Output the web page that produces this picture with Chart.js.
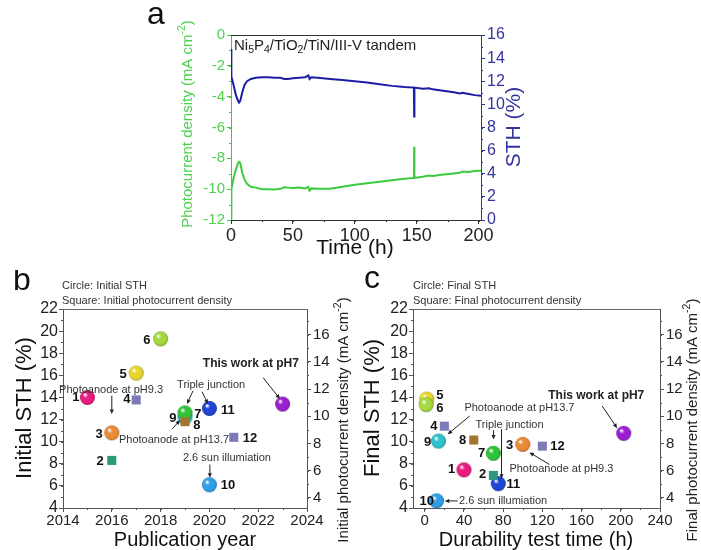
<!DOCTYPE html>
<html>
<head>
<meta charset="utf-8">
<script src="https://cdn.jsdelivr.net/npm/chart.js@4.4.0/dist/chart.umd.min.js"></script>
<style>
  body { margin: 0; background: #fff; }
  #wrap { position: relative; width: 701px; height: 550px; overflow: hidden; }
  canvas { position: absolute; }
</style>
</head>
<body>
<div id="wrap">
  <canvas id="chA" width="420" height="270" style="left:140px;top:0px"></canvas>
  <canvas id="chB" width="358" height="280" style="left:0px;top:270px"></canvas>
  <canvas id="chC" width="343" height="280" style="left:358px;top:270px"></canvas>
</div>
<script>
// ---- Panel a: stability run ----
var A_TIME = [0, 0.3, 2, 4, 5.5, 6.5, 7.5, 9, 11, 13, 16, 20, 25, 30, 35, 40, 43, 46, 50, 55,
  60, 62.5, 63.5, 65, 70, 80, 90, 100, 110, 120, 130, 140, 147.8, 148, 148.2, 155, 160, 163, 170, 180,
  185, 187, 192, 197, 202];
var A_STH = [14.8, 12.4, 11.7, 10.8, 10.35, 10.15, 10.3, 11.0, 11.7, 12.0, 12.2, 12.3, 12.35, 12.35, 12.3, 12.3, 12.2, 12.2, 12.25, 12.3,
  12.35, 12.5, 12.2, 12.35, 12.3, 12.2, 12.1, 12.0, 11.9, 11.75, 11.6, 11.5, 11.45, 8.95, 11.45, 11.35, 11.4, 11.3, 11.2, 11.05,
  10.95, 11.0, 10.9, 10.8, 10.75];
var A_PHOTOCURRENT = [-11.9, -10.0, -9.3, -8.7, -8.35, -8.22, -8.3, -8.9, -9.4, -9.65, -9.85, -9.9, -10.0, -10.0, -10.02, -9.98, -9.88, -9.9, -9.92, -9.9,
  -9.95, -9.85, -10.1, -9.95, -9.98, -9.97, -9.85, -9.72, -9.62, -9.52, -9.42, -9.33, -9.27, -7.25, -9.27, -9.2, -9.12, -9.15, -9.07, -8.98,
  -8.93, -8.85, -8.88, -8.82, -8.8];
var A_X_TICKS = [0, 50, 100, 150, 200];
var A_J_TICKS = [-12, -10, -8, -6, -4, -2, 0];
var A_STH_TICKS = [0, 2, 4, 6, 8, 10, 12, 14, 16];

// ---- Panel b: initial values vs publication year ----
var B_CIRCLE_IDS = ['1', '3', '5', '6', '9', '7', '10', '11', 'This work'];
var B_CIRCLE_YEAR = [2015, 2016, 2017, 2018, 2019, 2019, 2020, 2020, 2023];
var B_CIRCLE_STH = [14.0, 10.8, 16.2, 19.3, 12.2, 12.6, 6.1, 13.0, 13.4];
var B_SQUARE_IDS = ['2', '4', '8', '12'];
var B_SQUARE_YEAR = [2016, 2017, 2019, 2021];
var B_SQUARE_J = [6.75, 11.2, 9.6, 8.45];
var B_X_TICKS = [2014, 2016, 2018, 2020, 2022, 2024];

// ---- Panel c: final values vs durability time ----
var C_CIRCLE_IDS = ['5', '6', '9', '1', '7', '3', '11', '10', 'This work'];
var C_CIRCLE_TIME = [2, 1.5, 14, 40, 70, 100, 75, 12, 203];
var C_CIRCLE_STH = [13.85, 13.35, 10.05, 7.45, 8.95, 9.75, 6.2, 4.65, 10.75];
var C_SQUARE_IDS = ['4', '8', '2', '12'];
var C_SQUARE_TIME = [20, 50, 70, 120];
var C_SQUARE_J = [9.27, 8.25, 5.65, 7.8];
var C_X_TICKS = [0, 40, 80, 120, 160, 200, 240];

var STH_TICKS = [4, 6, 8, 10, 12, 14, 16, 18, 20, 22];
var J_TICKS = [4, 6, 8, 10, 12, 14, 16];

var FONT = '"Liberation Sans", Arial, sans-serif';
var GREEN = '#3ccb3c';
var GREEN_TXT = '#4fd04f';
var NAVY = '#1c1ca6';
var NAVY_TXT = '#3434a0';
var DARK = '#333';

var COLORS = {
  '1': '#ec1b80', '2': '#2a9a7a', '3': '#ea8a36', '4': '#7d7ab8', '5': '#e6d62a',
  '6': '#a5d83c', '7': '#2fc43a', '8': '#a57530', '9': '#2ec3cc', '10': '#2d9fe6',
  '11': '#1f45d6', '12': '#7d7ab8', 'This work': '#9b1fd0'
};

function shade(hex, f) {
  var n = parseInt(hex.slice(1), 16);
  var r = (n >> 16) & 255, g = (n >> 8) & 255, b = n & 255;
  r = Math.round(r * (1 + f)); g = Math.round(g * (1 + f)); b = Math.round(b * (1 + f));
  return 'rgb(' + r + ',' + g + ',' + b + ')';
}

// glossy sphere marker
function ball(color) {
  var r = 7.5, s = 17;
  var c = document.createElement('canvas');
  c.width = s; c.height = s;
  var g = c.getContext('2d');
  var grad = g.createRadialGradient(s / 2 - 2.6, s / 2 - 3, 0.5, s / 2, s / 2, r);
  grad.addColorStop(0, '#ffffff');
  grad.addColorStop(0.3, color);
  grad.addColorStop(0.8, color);
  grad.addColorStop(1, shade(color, -0.3));
  g.fillStyle = grad;
  g.beginPath(); g.arc(s / 2, s / 2, r, 0, Math.PI * 2); g.fill();
  return c;
}

function pairs(xs, ys) {
  var out = [];
  for (var i = 0; i < xs.length; i++) out.push({ x: xs[i], y: ys[i] });
  return out;
}
function fixedTicks(list) {
  return function (scale) { scale.ticks = list.map(function (v) { return { value: v }; }); };
}
function fixW(w) { return function (s) { s.width = w; }; }
function fixH(h) { return function (s) { s.height = h; }; }
function asText(v) { return String(v); }

function drawRich(ctx, parts, x, y, size, weight, color, align, rot, baseline) {
  if (typeof parts === 'string') parts = [[parts]];
  ctx.save();
  ctx.translate(x, y);
  if (rot) ctx.rotate(rot);
  ctx.fillStyle = color;
  ctx.textBaseline = baseline || 'middle';
  ctx.textAlign = 'left';
  var total = 0, widths = [];
  parts.forEach(function (p) {
    var s = p[1] ? size * 0.7 : size;
    ctx.font = weight + ' ' + s + 'px ' + FONT;
    var w = ctx.measureText(p[0]).width;
    widths.push(w); total += w;
  });
  var cx = align === 'left' ? 0 : (align === 'right' ? -total : -total / 2);
  parts.forEach(function (p, i) {
    var s = p[1] ? size * 0.7 : size;
    var dy = p[1] === 'sub' ? size * 0.3 : (p[1] === 'sup' ? -size * 0.38 : 0);
    ctx.font = weight + ' ' + s + 'px ' + FONT;
    ctx.fillText(p[0], cx, dy);
    cx += widths[i];
  });
  ctx.restore();
}

function arrow(ctx, x1, y1, x2, y2, color) {
  var ang = Math.atan2(y2 - y1, x2 - x1), h = 5;
  ctx.strokeStyle = color; ctx.fillStyle = color; ctx.lineWidth = 1;
  ctx.beginPath();
  ctx.moveTo(x1, y1);
  ctx.lineTo(x2 - Math.cos(ang) * h * 0.7, y2 - Math.sin(ang) * h * 0.7);
  ctx.stroke();
  ctx.beginPath();
  ctx.moveTo(x2, y2);
  ctx.lineTo(x2 - h * Math.cos(ang - 0.42), y2 - h * Math.sin(ang - 0.42));
  ctx.lineTo(x2 - h * Math.cos(ang + 0.42), y2 - h * Math.sin(ang + 0.42));
  ctx.closePath();
  ctx.fill();
}

// titles, frame, minor ticks and callouts
var notesPlugin = {
  id: 'notes',
  afterDraw: function (chart, args, o) {
    var ctx = chart.ctx, a = chart.chartArea;
    var sx = chart.scales.x, sy = chart.scales.y;
    var ox = o.offset[0], oy = o.offset[1];
    ctx.save();
    ctx.lineWidth = 1;
    ctx.strokeStyle = o.frameColor;
    ctx.beginPath(); ctx.moveTo(a.left, a.top + 0.5); ctx.lineTo(a.right, a.top + 0.5); ctx.stroke();

    (o.minor || []).forEach(function (m) {
      var sc = chart.scales[m.axis];
      ctx.strokeStyle = m.color;
      ctx.beginPath();
      for (var v = sc.min - (sc.min % m.step); v <= sc.max + 1e-9; v += m.step) {
        if (v < sc.min - 1e-9) continue;
        var p = Math.round(sc.getPixelForValue(v)) + 0.5;
        if (m.axis === 'x') { ctx.moveTo(p, a.bottom); ctx.lineTo(p, a.bottom + 2); }
        else if (sc.position === 'left') { ctx.moveTo(a.left, p); ctx.lineTo(a.left - 2, p); }
        else { ctx.moveTo(a.right, p); ctx.lineTo(a.right + 2, p); }
      }
      ctx.stroke();
    });

    (o.arrows || []).forEach(function (r) {
      arrow(ctx, sx.getPixelForValue(r[0]), sy.getPixelForValue(r[1]),
        sx.getPixelForValue(r[2]), sy.getPixelForValue(r[3]), '#222');
    });
    (o.notes || []).forEach(function (n) {
      drawRich(ctx, n.t, sx.getPixelForValue(n.x), sy.getPixelForValue(n.y),
        n.size || 11, n.bold ? 'bold' : 'normal', n.color || '#333', n.align || 'center');
    });
    (o.titles || []).forEach(function (t) {
      drawRich(ctx, t.t, t.x - ox, t.y - oy, t.size, t.weight || 'normal', t.color || '#111',
        t.align || 'center', t.rot ? -Math.PI / 2 : 0, t.baseline);
    });
    ctx.restore();
  }
};

var CM2 = [['('], ['mA cm'], ['-2', 'sup'], [')']];

// ---------- Panel a ----------
new Chart(document.getElementById('chA'), {
  type: 'scatter',
  data: {
    datasets: [
      { label: 'STH', data: pairs(A_TIME, A_STH), yAxisID: 'y2', showLine: true,
        borderColor: NAVY, borderWidth: 2, pointRadius: 0, tension: 0 },
      { label: 'Photocurrent density', data: pairs(A_TIME, A_PHOTOCURRENT), yAxisID: 'y', showLine: true,
        borderColor: GREEN, borderWidth: 2, pointRadius: 0, tension: 0 }
    ]
  },
  options: {
    responsive: false, animation: false, devicePixelRatio: 1,
    layout: { padding: { top: 35 } },
    plugins: {
      legend: { display: false }, tooltip: { enabled: false },
      notes: {
        offset: [140, 0], frameColor: DARK,
        minor: [{ axis: 'x', step: 25, color: DARK }, { axis: 'y', step: 1, color: GREEN }, { axis: 'y2', step: 1, color: NAVY_TXT }],
        titles: [
          { t: 'a', x: 147, y: 24, size: 32, color: '#111', align: 'left', baseline: 'alphabetic' },
          { t: [['Ni'], ['5', 'sub'], ['P'], ['4', 'sub'], ['/TiO'], ['2', 'sub'], ['/TiN/III-V tandem']],
            x: 234, y: 46, size: 15, color: '#222', align: 'left' },
          { t: [['Photocurrent density ']].concat(CM2), x: 188, y: 124, size: 15, color: GREEN_TXT, rot: true },
          { t: 'STH (%)', x: 514, y: 127, size: 21, color: NAVY_TXT, rot: true },
          { t: 'Time (h)', x: 355, y: 248, size: 21, color: '#111' }
        ]
      }
    },
    scales: {
      x: {
        type: 'linear', min: 0, max: 202,
        afterBuildTicks: fixedTicks(A_X_TICKS), afterFit: fixH(50),
        grid: { drawOnChartArea: false, tickLength: 4, color: DARK },
        border: { color: DARK },
        ticks: { font: { family: FONT, size: 18 }, color: '#222', padding: 1, maxRotation: 0, autoSkip: false, callback: asText }
      },
      y: {
        position: 'left', min: -12, max: 0,
        afterBuildTicks: fixedTicks(A_J_TICKS), afterFit: fixW(91),
        grid: { drawOnChartArea: false, tickLength: 4, color: GREEN },
        border: { color: GREEN },
        ticks: { font: { family: FONT, size: 15 }, color: GREEN_TXT, padding: 2, autoSkip: false, callback: asText }
      },
      y2: {
        position: 'right', min: 0, max: 16,
        afterBuildTicks: fixedTicks(A_STH_TICKS), afterFit: fixW(79),
        grid: { drawOnChartArea: false, tickLength: 4, color: NAVY_TXT },
        border: { color: NAVY_TXT },
        ticks: { font: { family: FONT, size: 16 }, color: NAVY_TXT, padding: 2, autoSkip: false, callback: asText }
      }
    }
  },
  plugins: [notesPlugin]
});

// ---------- Panels b and c ----------
function comparePanel(id, o) {
  return new Chart(document.getElementById(id), {
    type: 'scatter',
    data: {
      datasets: [
        { label: 'Square', data: pairs(o.sqX, o.sqY), yAxisID: 'y2', pointStyle: 'rect', pointRadius: 6.4,
          backgroundColor: o.sqIds.map(function (k) { return COLORS[k]; }), borderWidth: 0 },
        { label: 'Circle', data: pairs(o.ciX, o.ciY), yAxisID: 'y',
          pointStyle: o.ciIds.map(function (k) { return ball(COLORS[k]); }) }
      ]
    },
    options: {
      responsive: false, animation: false, devicePixelRatio: 1,
      layout: { padding: { top: 39 } },
      plugins: {
        legend: { display: false }, tooltip: { enabled: false },
        notes: {
          offset: o.offset, frameColor: '#666',
          minor: [{ axis: 'x', step: o.xMinor, color: '#555' }, { axis: 'y', step: 1, color: '#555' }, { axis: 'y2', step: 1, color: '#555' }],
          arrows: o.arrows, notes: o.notes, titles: o.titles
        }
      },
      scales: {
        x: {
          type: 'linear', min: o.xMin, max: o.xMax,
          afterBuildTicks: fixedTicks(o.xTicks), afterFit: fixH(42),
          grid: { drawOnChartArea: false, tickLength: 4, color: '#555' },
          border: { color: '#555' },
          ticks: { font: { family: FONT, size: 15 }, color: '#222', padding: 0, maxRotation: 0, autoSkip: false, callback: asText }
        },
        y: {
          position: 'left', min: 4, max: 22,
          afterBuildTicks: fixedTicks(STH_TICKS), afterFit: fixW(o.leftW),
          grid: { drawOnChartArea: false, tickLength: 4, color: '#555' },
          border: { color: '#555' },
          ticks: { font: { family: FONT, size: 16 }, color: '#222', padding: 1, autoSkip: false, callback: asText }
        },
        y2: {
          position: 'right', min: 4 / 1.23, max: 22 / 1.23,
          afterBuildTicks: fixedTicks(J_TICKS), afterFit: fixW(o.rightW),
          grid: { drawOnChartArea: false, tickLength: 4, color: '#555' },
          border: { color: '#555' },
          ticks: { font: { family: FONT, size: 15 }, color: '#222', padding: 2, autoSkip: false, callback: asText }
        }
      }
    },
    plugins: [notesPlugin]
  });
}

function num(t, x, y) { return { t: t, x: x, y: y, size: 13, bold: true, color: '#111' }; }

comparePanel('chB', {
  offset: [0, 270], leftW: 63, rightW: 51,
  xMin: 2014, xMax: 2024, xTicks: B_X_TICKS, xMinor: 1,
  ciIds: B_CIRCLE_IDS, ciX: B_CIRCLE_YEAR, ciY: B_CIRCLE_STH,
  sqIds: B_SQUARE_IDS, sqX: B_SQUARE_YEAR, sqY: B_SQUARE_J,
  arrows: [
    [2022.2, 15.79, 2022.89, 13.87],
    [2019.33, 14.6, 2019.08, 13.41],
    [2019.7, 14.51, 2019.94, 13.41],
    [2016.0, 14.15, 2016.0, 12.5],
    [2018.47, 11.13, 2018.8, 11.95],
    [2020.02, 7.93, 2020.02, 6.74]
  ],
  notes: [
    num('1', 2014.53, 13.96), num('2', 2015.52, 8.2), num('3', 2015.48, 10.67), num('4', 2016.62, 13.78),
    num('5', 2016.46, 16.07), num('6', 2017.44, 19.17), num('7', 2019.53, 12.5), num('8', 2019.49, 11.5),
    num('9', 2018.5, 12.1), num('10', 2020.76, 6.0), num('11', 2020.76, 12.87), num('12', 2021.66, 10.3),
    { t: 'This work at pH7', x: 2021.7, y: 17.07, size: 12, bold: true, color: '#222' },
    { t: 'Triple junction', x: 2020.07, y: 15.15 },
    { t: 'Photoanode at pH9.3', x: 2015.97, y: 14.7 },
    { t: 'Photoanode at pH13.7', x: 2018.55, y: 10.12 },
    { t: '2.6 sun illumiation', x: 2020.72, y: 8.57 }
  ],
  titles: [
    { t: 'b', x: 13, y: 290, size: 32, color: '#111', align: 'left', baseline: 'alphabetic' },
    { t: 'Circle: Initial STH', x: 62, y: 286, size: 11, color: '#333', align: 'left' },
    { t: 'Square: Initial photocurrent density', x: 62, y: 301, size: 11, color: '#333', align: 'left' },
    { t: 'Initial STH (%)', x: 25, y: 408, size: 22, rot: true },
    { t: 'Publication year', x: 185, y: 540, size: 20 },
    { t: [['Initial photocurrent density ']].concat(CM2), x: 344, y: 420, size: 15, color: '#222', rot: true }
  ]
});

comparePanel('chC', {
  offset: [358, 270], leftW: 55, rightW: 41,
  xMin: -12, xMax: 240, xTicks: C_X_TICKS, xMinor: 20,
  ciIds: C_CIRCLE_IDS, ciX: C_CIRCLE_TIME, ciY: C_CIRCLE_STH,
  sqIds: C_SQUARE_IDS, sqX: C_SQUARE_TIME, sqY: C_SQUARE_J,
  arrows: [
    [181, 13.23, 196.3, 11.22],
    [45.8, 12.32, 23.4, 10.67],
    [70.2, 11.04, 70.2, 10.2],
    [78.3, 11.13, 78.3, 6.65],
    [127.2, 7.93, 106.8, 9.03],
    [33.6, 4.64, 20.3, 4.64]
  ],
  notes: [
    num('5', 15.3, 14.15), num('6', 15.3, 13.05), num('4', 9.2, 11.4), num('9', 3.0, 9.94),
    num('8', 38.7, 10.12), num('7', 58, 8.94), num('3', 86.5, 9.67), num('12', 135.3, 9.58),
    num('1', 27.5, 7.47), num('2', 59, 7.0), num('11', 90.5, 6.1), num('10', 2.0, 4.64),
    { t: 'This work at pH7', x: 175, y: 14.15, size: 12, bold: true, color: '#222' },
    { t: 'Photoanode at pH13.7', x: 96.6, y: 13.05 },
    { t: 'Triple junction', x: 86.5, y: 11.5 },
    { t: 'Photoanode at pH9.3', x: 139.4, y: 7.56 },
    { t: '2.6 sun illumiation', x: 35, y: 4.64, align: 'left' }
  ],
  titles: [
    { t: 'c', x: 364, y: 288, size: 32, color: '#111', align: 'left', baseline: 'alphabetic' },
    { t: 'Circle: Final STH', x: 413, y: 286, size: 11, color: '#333', align: 'left' },
    { t: 'Square: Final photocurrent density', x: 413, y: 301, size: 11, color: '#333', align: 'left' },
    { t: 'Final STH (%)', x: 373, y: 408, size: 22, rot: true },
    { t: 'Durability test time (h)', x: 536, y: 540, size: 20 },
    { t: [['Final photocurrent density ']].concat(CM2), x: 693, y: 420, size: 15, color: '#222', rot: true }
  ]
});
</script>
</body>
</html>
